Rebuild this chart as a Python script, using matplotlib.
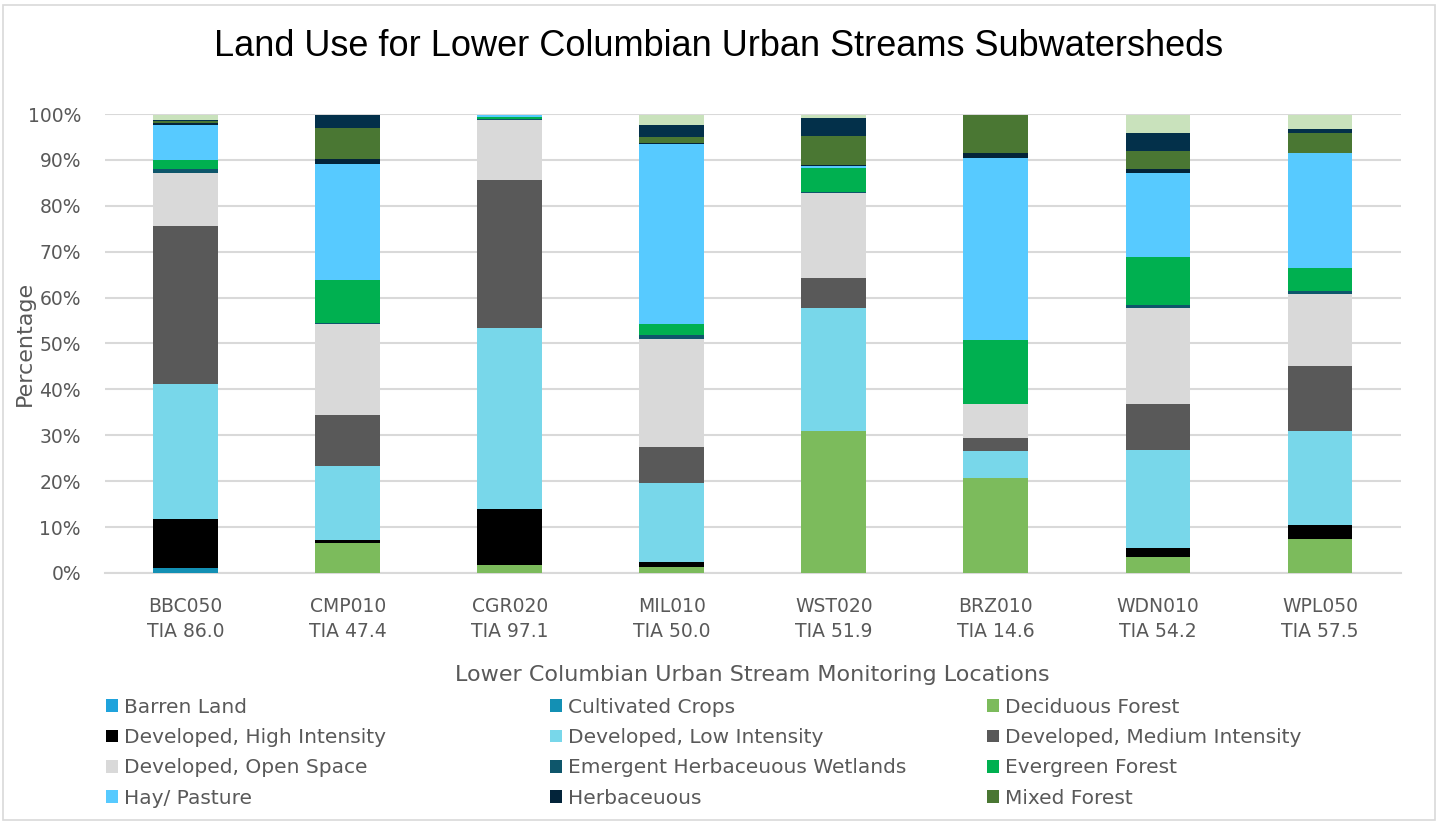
import numpy as np
import matplotlib
matplotlib.use('Agg')
import matplotlib.pyplot as plt
from matplotlib.patches import Rectangle

plt.rcParams['font.family'] = ['DejaVu Sans']

# monitoring locations and total impervious area
sites = ['BBC050', 'CMP010', 'CGR020', 'MIL010', 'WST020', 'BRZ010', 'WDN010', 'WPL050']
tia = ['86.0', '47.4', '97.1', '50.0', '51.9', '14.6', '54.2', '57.5']

# land use share per site, percent
barren_land = [0.1, 0, 0, 0, 0, 0, 0, 0]
cultivated_crops = [0.9, 0, 0, 0, 0, 0, 0, 0]
deciduous_forest = [0, 6.5, 1.8, 1.2, 31.0, 20.8, 3.4, 7.3]
dev_high = [10.8, 0.6, 12.2, 1.2, 0, 0, 2.0, 3.1]
dev_low = [29.4, 16.2, 39.3, 17.3, 26.7, 5.8, 21.5, 20.6]
dev_medium = [34.5, 11.1, 32.3, 7.7, 6.5, 2.7, 10.0, 14.0]
dev_open = [11.4, 19.8, 13.1, 23.6, 18.6, 7.6, 20.8, 15.8]
emergent_wetlands = [1.0, 0.2, 0.3, 0.9, 0.1, 0, 0.7, 0.6]
evergreen_forest = [1.8, 9.4, 0.4, 2.3, 5.4, 13.9, 10.5, 5.0]
hay_pasture = [7.7, 25.4, 0.4, 39.2, 0.4, 39.7, 18.3, 25.1]
herbaceous = [0.4, 1.0, 0, 0.3, 0.2, 1.0, 0.8, 0.1]
mixed_forest = [0.4, 6.7, 0, 1.4, 6.4, 8.3, 3.9, 4.3]
shrub_scrub = [0.3, 2.9, 0, 2.5, 3.8, 0, 4.0, 0.8]
woody_wetlands = [1.1, 0, 0, 2.2, 0.7, 0, 3.9, 3.1]

series = [
    ('Barren Land', barren_land, '#1FA3DC'),
    ('Cultivated Crops', cultivated_crops, '#1390B4'),
    ('Deciduous Forest', deciduous_forest, '#7CBB5C'),
    ('Developed, High Intensity', dev_high, '#000000'),
    ('Developed, Low Intensity', dev_low, '#78D7EA'),
    ('Developed, Medium Intensity', dev_medium, '#595959'),
    ('Developed, Open Space', dev_open, '#D9D9D9'),
    ('Emergent Herbaceuous Wetlands', emergent_wetlands, '#0E566B'),
    ('Evergreen Forest', evergreen_forest, '#00B050'),
    ('Hay/ Pasture', hay_pasture, '#57CAFF'),
    ('Herbaceuous', herbaceous, '#03243A'),
    ('Mixed Forest', mixed_forest, '#4A7733'),
    ('Shrub/Scrub', shrub_scrub, '#03304A'),
    ('Woody Wetlands', woody_wetlands, '#C9E2BC'),
]

fig = plt.figure(figsize=(14.38, 8.25), dpi=100)
ax = fig.add_axes([0.0727, 0.3055, 0.9016, 0.5563])

x = np.arange(len(sites))
bottom = np.zeros(len(sites))
handles = []
for name, vals, color in series:
    v = np.array(vals) / 100.0
    bars = ax.bar(x, v, 0.40, bottom=bottom, color=color, linewidth=0, label=name, zorder=3)
    handles.append(bars)
    bottom += v

ax.set_ylim(0, 1)
ax.set_xlim(-0.5, 7.5)
ax.set_yticks(np.arange(0, 1.01, 0.1))
ax.set_yticklabels([f'{int(round(t * 100))}%' for t in np.arange(0, 1.01, 0.1)])
ax.set_xticks(x)
ax.set_xticklabels([f'{s}\nTIA {t}' for s, t in zip(sites, tia)], linespacing=1.45)
ax.tick_params(axis='both', length=0, labelsize=13.5, colors='#595959')
ax.tick_params(axis='y', pad=17)
ax.tick_params(axis='x', pad=17)
ax.grid(axis='y', color='#D9D9D9', linewidth=1.5, zorder=0)
for side in ['top', 'right', 'left']:
    ax.spines[side].set_visible(False)
ax.spines['bottom'].set_color('#D9D9D9')
ax.spines['bottom'].set_linewidth(1.5)

ax.set_ylabel('Percentage', fontsize=16, color='#595959')
ax.yaxis.set_label_coords(-0.0536, 0.5)
ax.set_xlabel('Lower Columbian Urban Stream Monitoring Locations', fontsize=16, color='#595959')
ax.xaxis.set_label_coords(0.5, -0.222)
ax.xaxis.label.set_va('center')

fig.text(0.5, 0.944, 'Land Use for Lower Columbian Urban Streams Subwatersheds',
         ha='center', va='center', fontsize=26, color='#000000', family='Liberation Sans')

# legend: three columns of four entries, filled row by row
col_x = [0.0737, 0.3825, 0.6864]
for c in range(3):
    idx = [c, c + 3, c + 6, c + 9]
    leg = fig.legend([handles[i] for i in idx], [series[i][0] for i in idx],
                     loc='upper left', bbox_to_anchor=(col_x[c], 0.1545),
                     frameon=False, fontsize=14.5, handlelength=0.6,
                     handleheight=0.6, handletextpad=0.3, labelspacing=0.57,
                     borderaxespad=0, borderpad=0)
    for t in leg.get_texts():
        t.set_color('#595959')

fig.patches.append(Rectangle((0.002, 0.006), 0.996, 0.988, transform=fig.transFigure,
                             fill=False, edgecolor='#D9D9D9', linewidth=1.2))

fig.savefig('out.png', dpi=100)
